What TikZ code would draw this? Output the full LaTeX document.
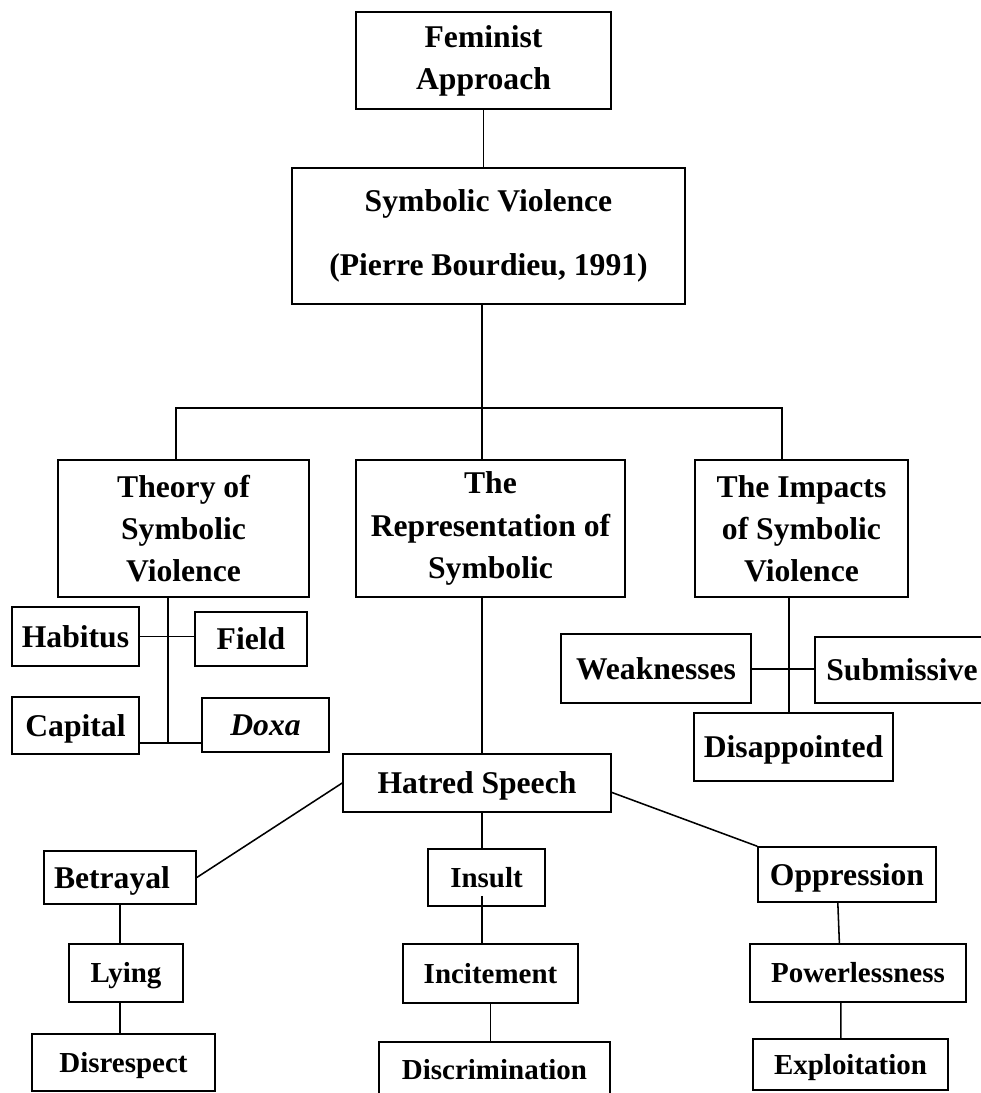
\documentclass[tikz,border=0pt]{standalone}
\usepackage{fontspec}
\setmainfont{Liberation Serif}
\usetikzlibrary{calc}
\newlength\px
\setlength\px{0.025cm}
\newcommand\bigtxt{\fontsize{22.5}{30}\selectfont\bfseries}
\newcommand\smalltxt{\fontsize{20.6}{28}\selectfont\bfseries}
\tikzset{
  box/.style={draw, line width=1.1pt, inner sep=0pt, align=center, font=\bigtxt},
  word/.style={box, text height=15pt, text depth=0pt},
  wordsm/.style={word, font=\smalltxt, text height=13.6pt},
  link/.style={line width=1.1pt},
}

\begin{document}
\begin{tikzpicture}[x=0.025cm, y=-0.025cm]
  \path[use as bounding box, clip] (0,0) rectangle (981,1093);

  \coordinate (trunk) at (482,408);
  \coordinate (barL) at (176,408);
  \coordinate (barR) at (782,408);
  \coordinate (tjoin) at (168,743);
  \coordinate (ijoin) at (789,669);

  % top of the tree
  \node[box, minimum width=255\px, minimum height=97\px] (fem) at (483.5,60.5) {Feminist\\Approach};
  \node[box, minimum width=393\px, minimum height=136\px, font=\fontsize{22.5}{46}\selectfont\bfseries] (sv) at (488.5,236) {Symbolic Violence\\(Pierre Bourdieu, 1991)};

  \node[box, minimum width=251\px, minimum height=137\px] (theory) at (183.5,528.5) {Theory of\\Symbolic\\Violence};
  \node[box, minimum width=269\px, minimum height=137\px] (repr) at (490.5,528.5) {The\\Representation of\\Symbolic};
  \node[box, minimum width=213\px, minimum height=137\px] (impact) at (801.5,528.5) {The Impacts\\of Symbolic\\Violence};

  % theory
  \node[word, minimum width=127\px, minimum height=59\px] (habitus) at (75.5,636.5) {Habitus};
  \node[word, minimum width=112\px, minimum height=54\px] (field) at (251,639) {Field};
  \node[word, minimum width=127\px, minimum height=57\px] (capital) at (75.5,725.5) {Capital};
  \node[word, minimum width=127\px, minimum height=54\px] (doxa) at (265.5,725) {\textit{Doxa}};

  % impacts
  \node[word, minimum width=190\px, minimum height=69\px] (weak) at (656,668.5) {Weaknesses};
  \node[word, minimum width=174\px, minimum height=66\px] (subm) at (902,670) {Submissive};
  \node[word, minimum width=199\px, minimum height=68\px] (disap) at (793.5,747) {Disappointed};

  % representation
  \node[word, minimum width=268\px, minimum height=58\px] (hatred) at (477,783) {Hatred Speech};
  \node[word, minimum width=152\px, minimum height=53\px] (betray) at (120,877.5) {Betrayal\hspace{16\px}};
  \node[wordsm, minimum width=114\px, minimum height=58\px] (lying) at (126,973) {Lying};
  \node[wordsm, minimum width=183\px, minimum height=57\px] (disres) at (123.5,1062.5) {Disrespect};
  \node[wordsm, minimum width=117\px, minimum height=57\px] (insult) at (486.5,877.5) {Insult};
  \node[wordsm, minimum width=175\px, minimum height=59\px] (incite) at (490.5,973.5) {Incitement};
  \node[wordsm, minimum width=231\px, minimum height=56\px] (discrim) at (494.5,1070) {Discrimination};
  \node[word, minimum width=178\px, minimum height=55\px] (oppress) at (847,874.5) {Oppression};
  \node[wordsm, minimum width=216\px, minimum height=58\px] (power) at (858,973) {Powerlessness};
  \node[wordsm, minimum width=195\px, minimum height=51\px] (exploit) at (850.5,1064.5) {Exploitation};

  \draw[link] (fem.south) -- (fem.south |- sv.north);
  \draw[link] (trunk |- sv.south) -- (trunk |- repr.north);
  \draw[link] (barL |- theory.north) -- (barL) -- (barR) -- (barR |- impact.north);

  \draw[link] (tjoin |- theory.south) -- (tjoin);
  \draw[link] (tjoin -| capital.east) -- (tjoin -| doxa.west);
  \draw[link] (habitus.east) -- (habitus.east -| field.west);

  \draw[link] (ijoin |- impact.south) -- (ijoin |- disap.north);
  \draw[link] (ijoin -| weak.east) -- (ijoin -| subm.west);

  \draw[link] (trunk |- repr.south) -- (trunk |- hatred.north);
  \draw[link] (hatred.west) -- (betray.east);
  \draw[link] (hatred.-4) -- (oppress.north west);
  \draw[link] (trunk |- hatred.south) -- (trunk |- insult.north);
  \draw[link] ($(trunk |- insult.south)+(0,-11)$) -- (trunk |- incite.north);
  \draw[link] (incite.south) -- (incite.south |- discrim.north);

  \draw[link] (betray.south) -- (betray.south |- lying.north);
  \draw[link] (betray.south |- lying.south) -- (betray.south |- disres.north);

  \draw[link] (oppress.-108) -- (power.122);
  \draw[link] (power.-120) -- (exploit.110);
\end{tikzpicture}
\end{document}
